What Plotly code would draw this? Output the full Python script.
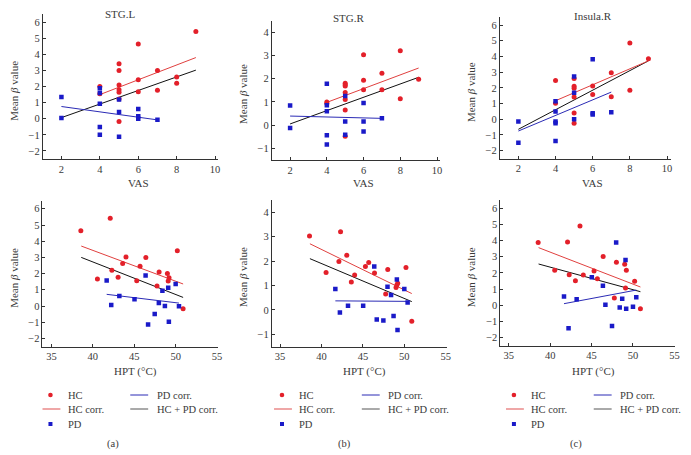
import plotly.graph_objects as go

W, H = 691, 455
M = 8  # page body margin of the browser
FW, FH = W - M, H - M
RED = "#e3202a"
BLUE = "#1a1ac8"
LRED = "#e0403f"
LBLUE = "#2b2bb5"
FONT = "Liberation Serif, Times New Roman, serif"
TXT = "#3a3a3a"

# ---------------- data ----------------
regions = ["STG.L", "STG.R", "Insula.R"]

# VAS panels (top row)
stgl_vas_hc_x = [4, 4, 5, 5, 5, 5, 5, 5, 5, 6, 6, 6, 7, 7, 8, 8, 9]
stgl_vas_hc_y = [2.0, 1.55, 3.41, 2.99, 2.1, 1.8, 1.65, 1.22, -0.17, 4.65, 2.42, 1.68, 3.0, 1.77, 2.6, 2.2, 5.42]
stgl_vas_pd_x = [2, 2, 4, 4, 4, 4, 4, 5, 5, 5, 6, 6, 6, 7]
stgl_vas_pd_y = [1.35, 0.05, 1.9, 1.6, 0.93, -0.52, -1.0, 1.2, 0.42, -1.12, 0.6, 0.16, 0.0, -0.06]
stgl_vas_fit_hc = ([4, 9], [1.5, 3.8])
stgl_vas_fit_pd = ([2, 7], [0.76, -0.07])
stgl_vas_fit_all = ([2, 9], [0.07, 3.02])

stgr_vas_hc_x = [4, 4, 5, 5, 5, 5, 5, 5, 5, 6, 6, 6, 7, 7, 8, 8, 9]
stgr_vas_hc_y = [1.0, 0.93, 1.8, 1.74, 1.69, 1.41, 1.1, 0.65, -0.48, 3.03, 1.93, 1.52, 2.24, 1.52, 3.2, 1.14, 1.98]
stgr_vas_pd_x = [2, 2, 4, 4, 4, 4, 4, 5, 5, 5, 6, 6, 6, 7]
stgr_vas_pd_y = [0.84, -0.13, 1.78, 0.86, 0.6, -0.44, -0.84, 1.25, 0.16, -0.42, 0.95, 0.16, -0.28, 0.29]
stgr_vas_fit_hc = ([4, 9], [0.98, 2.46])
stgr_vas_fit_pd = ([2, 7], [0.39, 0.29])
stgr_vas_fit_all = ([2, 9], [0.05, 2.06])

insr_vas_hc_x = [4, 4, 5, 5, 5, 5, 5, 5, 6, 6, 7, 7, 8, 8, 9]
insr_vas_hc_y = [2.47, 1.02, 2.6, 2.1, 1.97, 1.42, 0.4, -0.25, 2.12, 1.58, 2.96, 1.43, 4.85, 1.85, 3.85]
insr_vas_pd_x = [2, 2, 4, 4, 4, 4, 4, 5, 5, 5, 6, 6, 6, 7]
insr_vas_pd_y = [-0.15, -1.5, 1.15, 0.5, -0.15, -0.25, -1.38, 2.72, 1.68, 0.0, 3.82, 0.3, 0.38, 0.45]
insr_vas_fit_hc = ([4, 9], [1.18, 3.72])
insr_vas_fit_pd = ([2, 7], [-0.75, 1.73])
insr_vas_fit_all = ([2, 9], [-0.64, 3.72])

# HPT panels (bottom row)
hc_hpt = [38.55, 40.55, 42.1, 42.3, 43.05, 43.6, 44.0, 45.3, 45.7, 46.4, 47.75, 48.0, 49.0, 49.1, 49.2, 50.2, 50.9]
pd_hpt = [41.67, 42.22, 43.2, 45.03, 46.37, 46.67, 47.47, 47.97, 48.4, 48.7, 49.1, 49.18, 50.0, 50.4]

stgl_hpt_hc_y = [4.65, 1.66, 5.41, 2.2, 1.77, 2.63, 3.02, 1.56, 2.45, 3.0, 1.23, 2.1, 2.01, 1.54, 1.75, 3.41, -0.17]
stgl_hpt_pd_y = [1.58, 0.06, 0.61, 0.41, 1.89, -1.14, -0.5, 0.18, 0.94, 0.0, 1.13, -0.97, 1.36, -0.02]
stgl_hpt_fit_hc = ([38.6, 50.9], [3.7, 1.36])
stgl_hpt_fit_pd = ([41.67, 50.4], [0.72, 0.18])
stgl_hpt_fit_all = ([38.6, 50.9], [3.0, 0.53])

stgr_hpt_hc_y = [3.03, 1.53, 1.98, 3.2, 2.24, 1.14, 1.43, 1.78, 1.94, 1.51, 0.65, 1.66, 0.92, 1.02, 1.09, 1.74, -0.47]
stgr_hpt_pd_y = [0.86, -0.11, 0.17, 0.17, 1.78, -0.39, -0.43, 0.95, 0.61, -0.25, 1.25, -0.82, 0.86, 0.3]
stgr_hpt_fit_hc = ([38.6, 50.9], [2.71, 0.67])
stgr_hpt_fit_pd = ([41.67, 50.4], [0.37, 0.35])
stgr_hpt_fit_all = ([38.6, 50.9], [2.1, 0.34])

insr_hpt_hc_y = [3.87, 2.16, 3.91, 1.89, 1.52, 4.9, 1.87, 2.12, 1.64, 3.02, 0.45, 2.65, 2.53, 1.07, 2.16, 1.48, -0.21]
insr_hpt_pd_y = [0.55, -1.42, 0.37, 1.73, 1.21, 0.04, -1.28, 3.87, -0.13, 0.41, 2.8, -0.21, -0.09, 0.49]
insr_hpt_fit_hc = ([38.6, 50.9], [3.56, 1.13])
insr_hpt_fit_pd = ([41.67, 50.4], [0.1, 0.94])
insr_hpt_fit_all = ([38.6, 50.9], [2.55, 0.84])

vas_ticks = [2, 4, 6, 8, 10]
hpt_ticks = [35, 40, 45, 50, 55]
legend_labels = ["HC", "HC corr.", "PD", "PD corr.", "HC + PD corr."]
panel_labels = ["(a)", "(b)", "(c)"]

# ---------------- layout geometry (window pixels) ----------------
def px_x(p):
    return (p - M) / FW

def px_y(p):
    return 1 - (p - M) / FH

panels = [
    dict(xd=(43, 219), yd=(14.1, 159), xr=[1.03, 10.14], yr=[-2.5, 6.5], yt=list(range(-2, 7))),
    dict(xd=(273.3, 442.3), yd=(20.7, 159.9), xr=[1.0, 10.15], yr=[-1.5, 4.5], yt=list(range(-1, 5))),
    dict(xd=(502.7, 675), yd=(17.2, 158.5), xr=[1.0, 10.22], yr=[-2.5, 6.5], yt=list(range(-2, 7))),
    dict(xd=(42.7, 219.3), yd=(200.7, 346.5), xr=[33.92, 55.12], yr=[-2.5, 6.5], yt=list(range(-2, 7))),
    dict(xd=(273.3, 449.3), yd=(200.1, 346.5), xr=[33.99, 55.12], yr=[-1.5, 4.5], yt=list(range(-1, 5))),
    dict(xd=(503.3, 679.3), yd=(200, 345.8), xr=[33.99, 55.12], yr=[-2.5, 6.5], yt=list(range(-2, 7))),
]

series = [
    (stgl_vas_hc_x, stgl_vas_hc_y, stgl_vas_pd_x, stgl_vas_pd_y, stgl_vas_fit_hc, stgl_vas_fit_pd, stgl_vas_fit_all),
    (stgr_vas_hc_x, stgr_vas_hc_y, stgr_vas_pd_x, stgr_vas_pd_y, stgr_vas_fit_hc, stgr_vas_fit_pd, stgr_vas_fit_all),
    (insr_vas_hc_x, insr_vas_hc_y, insr_vas_pd_x, insr_vas_pd_y, insr_vas_fit_hc, insr_vas_fit_pd, insr_vas_fit_all),
    (hc_hpt, stgl_hpt_hc_y, pd_hpt, stgl_hpt_pd_y, stgl_hpt_fit_hc, stgl_hpt_fit_pd, stgl_hpt_fit_all),
    (hc_hpt, stgr_hpt_hc_y, pd_hpt, stgr_hpt_pd_y, stgr_hpt_fit_hc, stgr_hpt_fit_pd, stgr_hpt_fit_all),
    (hc_hpt, insr_hpt_hc_y, pd_hpt, insr_hpt_pd_y, insr_hpt_fit_hc, insr_hpt_fit_pd, insr_hpt_fit_all),
]

fig = go.Figure()
layout = {}
annotations = []
shapes = []

for i, (p, s) in enumerate(zip(panels, series)):
    n = i + 1
    xa = "x" if n == 1 else f"x{n}"
    ya = "y" if n == 1 else f"y{n}"
    hx, hy, px_, py_, fhc, fpd, fall = s
    fig.add_trace(go.Scatter(x=fall[0], y=fall[1], mode="lines", line=dict(color="#111111", width=1),
                             xaxis=xa, yaxis=ya, showlegend=False))
    fig.add_trace(go.Scatter(x=fhc[0], y=fhc[1], mode="lines", line=dict(color=LRED, width=1),
                             xaxis=xa, yaxis=ya, showlegend=False))
    fig.add_trace(go.Scatter(x=fpd[0], y=fpd[1], mode="lines", line=dict(color=LBLUE, width=1),
                             xaxis=xa, yaxis=ya, showlegend=False))
    fig.add_trace(go.Scatter(x=hx, y=hy, mode="markers", marker=dict(color=RED, size=5, symbol="circle"),
                             xaxis=xa, yaxis=ya, showlegend=False))
    fig.add_trace(go.Scatter(x=px_, y=py_, mode="markers", marker=dict(color=BLUE, size=4.5, symbol="square"),
                             xaxis=xa, yaxis=ya, showlegend=False))

    key_x = "xaxis" if n == 1 else f"xaxis{n}"
    key_y = "yaxis" if n == 1 else f"yaxis{n}"
    axis_common = dict(showline=True, linecolor="#333333", linewidth=1, showgrid=False, zeroline=False,
                       ticks="inside", ticklen=3, tickcolor="#333333", tickwidth=1,
                       tickfont=dict(family=FONT, size=10.5, color=TXT))
    layout[key_x] = dict(domain=[px_x(p["xd"][0]), px_x(p["xd"][1])], range=p["xr"], anchor=ya,
                         tickvals=vas_ticks if n <= 3 else hpt_ticks, **axis_common)
    layout[key_y] = dict(domain=[px_y(p["yd"][1]), px_y(p["yd"][0])], range=p["yr"], anchor=xa,
                         tickvals=p["yt"], **axis_common)

    annotations.append(dict(text="VAS" if n <= 3 else "HPT (°C)", xref=xa, yref="paper",
                            x=6.0 if n <= 3 else 45.2, y=px_y(183 if n <= 3 else 371),
                            showarrow=False, font=dict(family=FONT, size=11, color=TXT),
                            xanchor="center", yanchor="middle"))
    col = i % 3
    ytitle_x = [13.3, 245, 474][col]
    annotations.append(dict(text="Mean <i>β</i> value", xref="paper", yref="paper",
                            x=px_x(ytitle_x), y=px_y((p["yd"][0] + p["yd"][1]) / 2 + 4),
                            textangle=-90, showarrow=False, font=dict(family=FONT, size=11, color=TXT),
                            xanchor="center", yanchor="middle"))

for name, tx, ty in zip(regions, [120.7, 351, 596.7], [14.5, 18.3, 15.5]):
    annotations.append(dict(text=name, xref="paper", yref="paper", x=px_x(tx), y=px_y(ty),
                            showarrow=False, font=dict(family=FONT, size=11, color=TXT),
                            xanchor="center", yanchor="middle"))

row_y = [395, 409, 424]
for k, off in enumerate([0, 232.9, 466.2]):
    dot_x = 50.7 + off
    text1_x = 66 + off
    line1 = (42.7 + off, 60.7 + off)
    line2 = (131 + off, 149 + off)
    text2_x = 155.6 + off
    shapes.append(dict(type="circle", xref="paper", yref="paper", xsizemode="pixel", ysizemode="pixel",
                       xanchor=px_x(dot_x), yanchor=px_y(row_y[0]), x0=-2.3, x1=2.3, y0=-2.3, y1=2.3,
                       fillcolor=RED, line=dict(width=0)))
    shapes.append(dict(type="line", xref="paper", yref="paper", x0=px_x(line1[0]), x1=px_x(line1[1]),
                       y0=px_y(row_y[1]), y1=px_y(row_y[1]), line=dict(color="#ea8a8a", width=1.5)))
    shapes.append(dict(type="rect", xref="paper", yref="paper", xsizemode="pixel", ysizemode="pixel",
                       xanchor=px_x(dot_x), yanchor=px_y(row_y[2]), x0=-2, x1=2, y0=-2, y1=2,
                       fillcolor=BLUE, line=dict(width=0)))
    shapes.append(dict(type="line", xref="paper", yref="paper", x0=px_x(line2[0]), x1=px_x(line2[1]),
                       y0=px_y(row_y[0]), y1=px_y(row_y[0]), line=dict(color=LBLUE, width=1)))
    shapes.append(dict(type="line", xref="paper", yref="paper", x0=px_x(line2[0]), x1=px_x(line2[1]),
                       y0=px_y(row_y[1]), y1=px_y(row_y[1]), line=dict(color="#555555", width=1)))
    for lbl, lx, ly in [(legend_labels[0], text1_x, row_y[0]), (legend_labels[1], text1_x, row_y[1]),
                        (legend_labels[2], text1_x, row_y[2]), (legend_labels[3], text2_x, row_y[0]),
                        (legend_labels[4], text2_x, row_y[1])]:
        annotations.append(dict(text=lbl, xref="paper", yref="paper", x=px_x(lx), y=px_y(ly),
                                showarrow=False, font=dict(family=FONT, size=10.5, color=TXT),
                                xanchor="left", yanchor="middle"))
    annotations.append(dict(text=panel_labels[k], xref="paper", yref="paper", x=px_x(113.3 + off), y=px_y(444),
                            showarrow=False, font=dict(family=FONT, size=10.5, color=TXT),
                            xanchor="center", yanchor="middle"))

fig.update_layout(width=FW, height=FH, margin=dict(l=0, r=0, t=0, b=0), plot_bgcolor="white",
                  paper_bgcolor="white", showlegend=False, annotations=annotations, shapes=shapes, **layout)

fig.write_html("out.html")
